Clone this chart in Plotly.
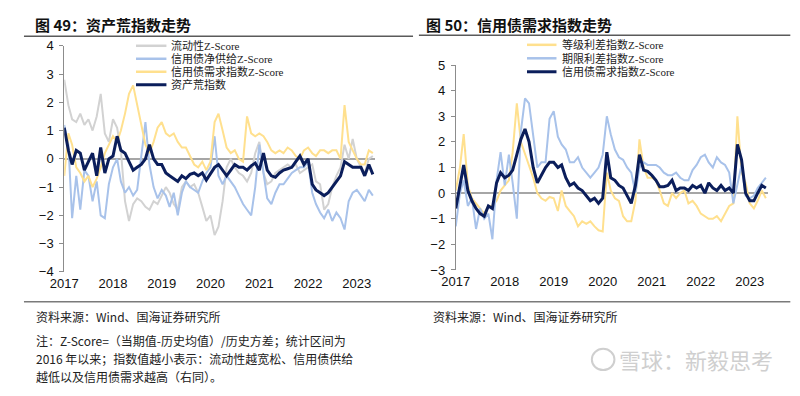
import pandas as pd
import plotly.graph_objects as go

dates = pd.date_range("2017-01-01", periods=77, freq="MS")

# ---- Left chart: 资产荒指数走势 ----
liquidity_z = [2.8, 1.9, 1.4, 1.3, 1.6, 1.2, 1.4, 1.0, 1.5, 2.3, 0.9, 0.6,
               1.4, 1.1, 0.3, -1.5, -2.2, -1.6, -1.4, -1.5, -1.7, -1.8, -1.5, -1.6,
               -1.3, -1.0, -1.2, -1.6, -1.8, -1.0, -0.8, -1.0, -0.9, -1.2, -1.7, -2.2,
               -2.0, -2.7, -2.4, -1.5, -0.3, 0.0, -0.3, -0.5, -0.6, -0.8, -0.5, 0.2,
               0.6, -0.5, -0.9, -0.8, -0.5, -0.4, -0.3, -0.2, -0.3, -0.2, -0.5, -0.4,
               -0.3, -0.2, -0.8, -0.9, -1.8, -1.6, -1.0, -0.6, -0.3, 0.5, 0.0, 0.7,
               0.0, -0.3, -0.5, 0.0, 0.1]
supply_z = [1.2, 0.5, -2.1, -0.6, -1.8, -0.4, -0.6, -1.5, -0.8, -2.0, -2.1, -0.9,
            -0.3, 0.0, -0.8, -1.2, -1.0, -1.3, -1.1, 0.2, 1.3, -0.2, -1.0, -1.4,
            -1.1, -1.3, -1.7, -1.2, -2.0, -1.2, -0.8, -1.0, -1.1, -1.2, -0.8, -0.5,
            -0.3, 0.8, -0.6, -0.9, -0.6, -0.8, -1.0, -1.3, -1.6, -1.8, -2.0, -1.0,
            0.5, -0.5, -1.4, -1.6, -1.2, -0.9, -0.9, -0.7, -0.5, -0.4, -0.3, -0.3,
            -0.1, -1.2, -1.6, -1.9, -2.1, -1.8, -2.2, -1.9, -2.1, -2.5, -1.5, -1.2,
            -1.1, -1.3, -1.5, -1.1, -1.3]
demand_z_left = [-0.6, 0.9, 0.5, -0.3, -0.5, -0.8, -0.6, -1.0, -0.7, -0.3, 0.2, 0.5,
                 0.8, 0.6, 1.0, 1.6, 2.3, 2.6, 1.9, 1.2, 0.5, 0.2, 0.6, 1.1,
                 1.3, 0.9, 0.8, 0.9, 0.6, 0.4, 0.4, 0.1, -0.2, -0.3, -0.1, -0.4,
                 -0.1, 1.3, 1.6, 1.0, 0.4, 0.2, 0.3, 0.0, -0.1, 1.5, 0.9, 0.8,
                 0.9, 0.8, 0.6, 0.3, 0.2, 0.3, 0.2, 0.4, 0.3, 0.1, 0.0, 0.3,
                 0.4, 0.2, 0.1, 0.3, 0.3, 0.2, 0.3, 0.3, 0.0, 1.9, 0.6, 0.3,
                 0.0, -0.2, -0.2, 0.3, 0.2]
asset_shortage = [1.1, 0.3, -0.2, 0.3, 0.2, -0.4, -0.1, 0.2, -0.6, 0.4, -0.5, 0.0,
                  0.1, 0.8, 0.3, 0.2, -0.1, -0.4, -0.3, -0.2, 0.0, 0.5, 0.0, -0.2,
                  -0.2, -0.5, -0.6, -0.7, -0.8, -0.6, -0.7, -0.55, -0.5, -0.6, -0.5, -0.75,
                  -0.5, -0.3, -0.2, -0.4, -0.6, -0.4, -0.2, -0.3, -0.3, -0.4, -0.25, -0.15,
                  -0.4, 0.2, -0.4, -0.6, -0.65, -0.5, -0.4, -0.35, -0.3, -0.1, 0.1, -0.2,
                  0.0, -0.9, -1.1, -1.2, -1.3, -1.2, -1.0, -0.8, -0.6, -0.1, -0.2, -0.3,
                  -0.3, -0.3, -0.6, -0.2, -0.55]

# ---- Right chart: 信用债需求指数走势 ----
grade_spread_z = [0.1, 1.0, 2.3, 0.3, -0.2, -0.4, -0.6, -0.8, -0.5, -0.5, -0.3, 0.1,
                  0.3, 0.5, 1.6, 3.5, 2.0, 1.5, 1.1, 0.6, 0.0, -0.2, -0.3, -0.15,
                  -0.2, -0.7, 0.1, -0.5, -0.7, -0.9, -1.3, -1.1, -1.2, -1.1, -1.3, -1.45,
                  -1.5, 0.8, 0.1, -0.2, -0.3, -0.9, -1.1, -1.1, -0.3, 2.1, 1.0, 0.6,
                  0.6, 0.5, 0.1, -0.4, -0.5, 0.0, -0.2, 0.0, 0.1, -0.4, -0.3, -0.5,
                  -0.8, -0.9, -1.0, -1.0, -0.9, -1.1, -0.8, -0.5, -0.4, 3.0, 0.8, 0.4,
                  -0.4, -0.6, -0.3, 0.1, -0.2]
term_spread_z = [-1.3, 0.0, 0.5, -0.5, -0.2, -1.4, -0.6, -1.0, -0.8, -1.8, 0.5, 1.6,
                 0.3, 1.5, 0.4, -1.0, 2.4, 3.7, 3.5, 2.2, 1.0, 1.2, 1.2, 2.9,
                 3.2, 2.2, 1.9, 1.7, 1.2, 1.2, 1.4, 1.0, 0.8, 0.6, 0.8, 1.0,
                 1.5, 3.0, 2.3, 1.7, 1.4, 1.3, 1.0, 0.8, 0.0, 1.0, 1.2, 1.1,
                 1.1, 1.1, 1.0, 0.8, 0.7, 0.7, 0.8, 0.6, 0.5, 0.5, 0.9, 1.1,
                 1.4, 1.5, 1.2, 1.0, 1.4, 1.2, 1.1, 0.8, -0.4, 0.3, 1.1, -0.1,
                 -0.2, -0.1, 0.2, 0.4, 0.6]
demand_z_right = [-0.6, 0.3, 1.1, 0.1, -0.3, -0.6, -0.8, -0.9, -0.5, -0.6, 0.4, 0.8,
                  0.6, 0.7, 0.9, 1.5, 2.1, 2.5, 2.0, 1.0, 0.4, 0.7, 1.0, 1.2,
                  1.2, 1.0, 1.1, 0.6, 0.3, 0.4, 0.2, 0.1, -0.1, -0.3, -0.2, -0.4,
                  -0.2, 1.6, 0.6, 0.5, 0.3, 0.2, -0.1, -0.4, 0.3, 1.5, 0.9, 0.85,
                  0.7, 0.5, 0.25, 0.25, 0.3, 0.5, 0.1, 0.2, 0.2, 0.1, 0.3, 0.2,
                  0.3, 0.0, 0.4, 0.2, 0.1, 0.3, 0.1, 0.2, 0.0, 1.9, 1.3, 0.0,
                  -0.3, -0.3, 0.0, 0.3, 0.2]

year_ticks = ["2017", "2018", "2019", "2020", "2021", "2022", "2023"]
left_names = ["流动性Z-Score", "信用债净供给Z-Score", "信用债需求指数Z-Score", "资产荒指数"]
right_names = ["等级利差指数Z-Score", "期限利差指数Z-Score", "信用债需求指数Z-Score"]

GRAY = "#D2D2D2"
LBLUE = "#A8C2EA"
YELLOW = "#FFE08E"
NAVY = "#0B1E5B"

W, H = 800, 396
OFF = 8  # page body margin offset in the screenshot
def px(x): return (x - OFF) / W
def py(y): return 1 - (y - OFF) / H

fig = go.Figure()
left_series = [(liquidity_z, GRAY, 2), (supply_z, LBLUE, 2), (demand_z_left, YELLOW, 2), (asset_shortage, NAVY, 3)]
for (vals, col, w), name in zip(left_series, left_names):
    fig.add_trace(go.Scatter(x=dates, y=vals, mode="lines", name=name, line=dict(color=col, width=w),
                             xaxis="x", yaxis="y", showlegend=False))
right_series = [(grade_spread_z, YELLOW, 2), (term_spread_z, LBLUE, 2), (demand_z_right, NAVY, 3)]
for (vals, col, w), name in zip(right_series, right_names):
    fig.add_trace(go.Scatter(x=dates, y=vals, mode="lines", name=name, line=dict(color=col, width=w),
                             xaxis="x2", yaxis="y2", showlegend=False))

tickfont = dict(family="Liberation Sans, Arial", size=13, color="#111")
xr = ["2017-01-01", "2023-05-15"]
tickvals = [f"{y}-01-01" for y in year_ticks]
xcommon = dict(range=xr, tickvals=tickvals, ticktext=year_ticks, showgrid=False, showline=False,
               zeroline=False, ticks="", tickfont=tickfont, ticklabelstandoff=2)
ycommon = dict(showgrid=False, showline=True, linecolor="#8C8C8C", linewidth=1, ticks="outside",
               ticklen=4, tickcolor="#8C8C8C", tickfont=tickfont, zeroline=True,
               zerolinecolor="#A6A6A6", zerolinewidth=1.5, dtick=1, ticklabelstandoff=3)

fig.update_layout(
    width=W, height=H, margin=dict(l=0, r=0, t=0, b=0),
    paper_bgcolor="white", plot_bgcolor="white", showlegend=False,
    xaxis=dict(domain=[px(51), px(367)], anchor="y", **xcommon),
    yaxis=dict(domain=[py(275), py(40)], range=[-4, 4], anchor="x", **ycommon),
    xaxis2=dict(domain=[px(449.5), px(767)], anchor="y2", **xcommon),
    yaxis2=dict(domain=[py(273), py(60)], range=[-3, 5], anchor="x2", **ycommon),
)

shapes = []
annotations = []
txtfont = dict(family="Noto Sans CJK SC", size=12, color="#222")
annotations.append(dict(x=px(19), y=py(18), xref="paper", yref="paper", xanchor="left", yanchor="middle",
                        text="<b>图 49：资产荒指数走势</b>", showarrow=False,
                        font=dict(family="Noto Sans CJK SC", size=15, color="#111")))
annotations.append(dict(x=px(417), y=py(18), xref="paper", yref="paper", xanchor="left", yanchor="middle",
                        text="<b>图 50：信用债需求指数走势</b>", showarrow=False,
                        font=dict(family="Noto Sans CJK SC", size=15, color="#111")))
shapes.append(dict(type="line", xref="paper", yref="paper", x0=px(10), x1=px(406), y0=py(30), y1=py(30),
                   line=dict(color="#5A5A5A", width=1.5)))
shapes.append(dict(type="line", xref="paper", yref="paper", x0=px(412), x1=px(790), y0=py(29), y1=py(29),
                   line=dict(color="#5A5A5A", width=1.5)))
shapes.append(dict(type="line", xref="paper", yref="paper", x0=px(10), x1=px(790), y0=py(306), y1=py(306),
                   line=dict(color="#7A7A7A", width=1.5)))

legfont = dict(family="Liberation Serif, Noto Sans CJK SC", size=11, color="#222")
left_cols = [GRAY, LBLUE, YELLOW, NAVY]
left_w = [2.5, 2.5, 2.5, 3]
for i, (name, col, w) in enumerate(zip(left_names, left_cols, left_w)):
    yy = 40 + i * 13.5
    shapes.append(dict(type="line", xref="paper", yref="paper", x0=px(124), x1=px(155), y0=py(yy), y1=py(yy),
                       line=dict(color=col, width=w)))
    annotations.append(dict(x=px(158), y=py(yy), xref="paper", yref="paper", xanchor="left", yanchor="middle",
                            text=name, showarrow=False, font=legfont))
right_cols = [YELLOW, LBLUE, NAVY]
right_w = [2.5, 2.5, 3]
for i, (name, col, w) in enumerate(zip(right_names, right_cols, right_w)):
    yy = 39 + i * 14
    shapes.append(dict(type="line", xref="paper", yref="paper", x0=px(522), x1=px(552), y0=py(yy), y1=py(yy),
                       line=dict(color=col, width=w)))
    annotations.append(dict(x=px(556), y=py(yy), xref="paper", yref="paper", xanchor="left", yanchor="middle",
                            text=name, showarrow=False, font=legfont))

annotations.append(dict(x=px(20), y=py(321), xref="paper", yref="paper", xanchor="left", yanchor="middle",
                        text="资料来源：Wind、国海证券研究所", showarrow=False, font=txtfont))
annotations.append(dict(x=px(424), y=py(321), xref="paper", yref="paper", xanchor="left", yanchor="middle",
                        text="资料来源：Wind、国海证券研究所", showarrow=False, font=txtfont))
notes = ["注：Z-Score=（当期值-历史均值）/历史方差；统计区间为",
         "2016 年以来；指数值越小表示：流动性越宽松、信用债供给",
         "越低以及信用债需求越高（右同）。"]
for i, line in enumerate(notes):
    annotations.append(dict(x=px(20), y=py(346 + i * 19), xref="paper", yref="paper", xanchor="left",
                            yanchor="middle", text=line, showarrow=False, font=txtfont))
annotations.append(dict(x=px(614), y=py(366), xref="paper", yref="paper", xanchor="left", yanchor="middle",
                        text="雪球：新毅思考", showarrow=False,
                        font=dict(family="Noto Sans CJK SC", size=22, color="#CFCFCF")))
shapes.append(dict(type="circle", xref="paper", yref="paper", x0=px(588), x1=px(611), y0=py(377), y1=py(355),
                   line=dict(color="#CFCFCF", width=2)))

fig.update_layout(shapes=shapes, annotations=annotations)
fig.write_html("out.html")
